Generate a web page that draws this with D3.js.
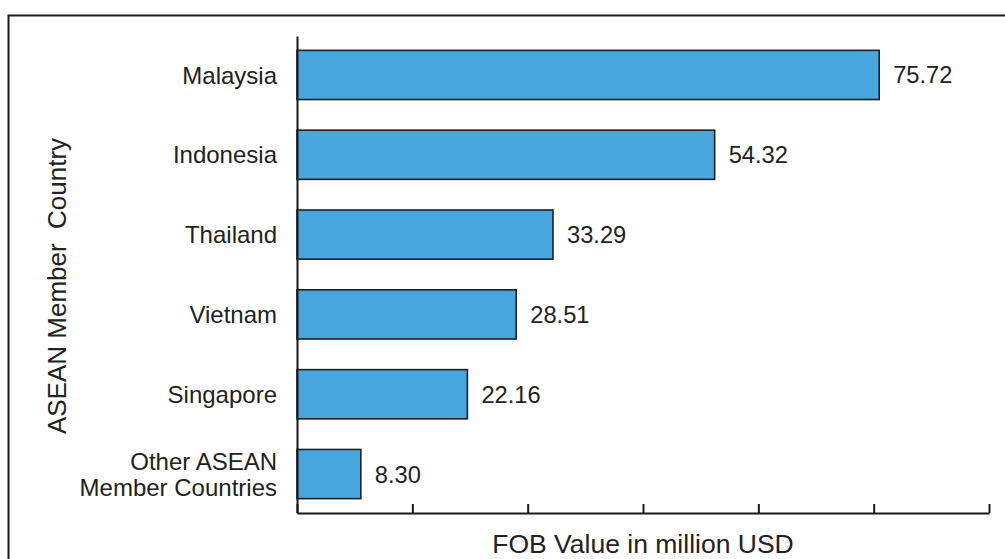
<!DOCTYPE html>
<html>
<head>
<meta charset="utf-8">
<script src="https://cdn.jsdelivr.net/npm/d3@7"></script>
<style>
  body { margin: 0; background: #fff; }
  svg { display: block; font-family: "Liberation Sans", Arial, sans-serif; }
</style>
</head>
<body>
<svg id="chart" width="1005" height="559"></svg>
<script>
// chart data
const countries = [
    'Malaysia',
    'Indonesia',
    'Thailand',
    'Vietnam',
    'Singapore',
    'Other ASEAN\nMember Countries'
];
const fobValues = [75.72, 54.32, 33.29, 28.51, 22.16, 8.30];
const xTicks = [0, 15, 30, 45, 60, 75, 90];

const svg = d3.select('#chart');
const margin = { left: 297, top: 36, bottom: 513 };

// outer frame (runs off the right and bottom edges in the scan)
svg.append('rect')
    .attr('x', 8.5).attr('y', 15.5)
    .attr('width', 1010).attr('height', 560)
    .attr('fill', 'none')
    .attr('stroke', '#1a1a1a')
    .attr('stroke-width', 2);

const x = d3.scaleLinear()
    .domain([0, 90])
    .range([margin.left, 989]);

const y = d3.scaleBand()
    .domain(countries)
    .range([margin.top, margin.bottom])
    .paddingInner(0.384)
    .paddingOuter(0.18);

// bars
svg.append('g')
    .selectAll('rect')
    .data(countries)
    .join('rect')
    .attr('x', x(0))
    .attr('y', (d) => y(d))
    .attr('width', (d, i) => x(fobValues[i]) - x(0))
    .attr('height', y.bandwidth())
    .attr('fill', '#48a6df')
    .attr('stroke', '#1f1f1f')
    .attr('stroke-width', 1.6);

// value labels
svg.append('g')
    .selectAll('text')
    .data(countries)
    .join('text')
    .attr('x', (d, i) => x(fobValues[i]) + 14)
    .attr('y', (d) => y(d) + y.bandwidth() / 2)
    .attr('dy', '0.36em')
    .attr('font-size', 23.7)
    .attr('fill', '#222')
    .text((d, i) => fobValues[i].toFixed(2));

// x axis, ticks pointing up, no labels
const xAxis = svg.append('g')
    .attr('transform', `translate(0,${margin.bottom})`)
    .call(d3.axisBottom(x).tickValues(xTicks).tickSize(-9).tickFormat('').tickSizeOuter(0));
xAxis.select('.domain').attr('stroke', '#1a1a1a').attr('stroke-width', 2);
xAxis.selectAll('.tick line').attr('stroke', '#1a1a1a').attr('stroke-width', 2);

// y axis line
const yAxis = svg.append('g')
    .attr('transform', `translate(${margin.left},0)`)
    .call(d3.axisLeft(y).tickSize(0).tickFormat(''));
yAxis.select('.domain').attr('stroke', '#1a1a1a').attr('stroke-width', 2);

// category labels (multi-line allowed)
const catLabels = svg.append('g')
    .selectAll('text')
    .data(countries)
    .join('text')
    .attr('x', 277)
    .attr('y', (d) => y(d) + y.bandwidth() / 2)
    .attr('text-anchor', 'end')
    .attr('font-size', 24)
    .attr('fill', '#222');

catLabels.each(function (d) {
    const lines = d.split('\n');
    const t = d3.select(this);
    const lh = 1.08;
    lines.forEach((line, k) => {
        t.append('tspan')
            .attr('x', 277)
            .attr('dy', k === 0 ? `${0.36 - (lines.length - 1) * lh / 2}em` : `${lh}em`)
            .text(line);
    });
});

// axis titles
svg.append('text')
    .attr('transform', 'translate(66,286) rotate(-90)')
    .attr('text-anchor', 'middle')
    .attr('font-size', 26)
    .attr('fill', '#222')
    .style('white-space', 'pre')
    .text('ASEAN Member  Country');

svg.append('text')
    .attr('x', (x(0) + x(90)) / 2)
    .attr('y', 553)
    .attr('text-anchor', 'middle')
    .attr('font-size', 26.5)
    .attr('fill', '#222')
    .text('FOB Value in million USD');
</script>
</body>
</html>
